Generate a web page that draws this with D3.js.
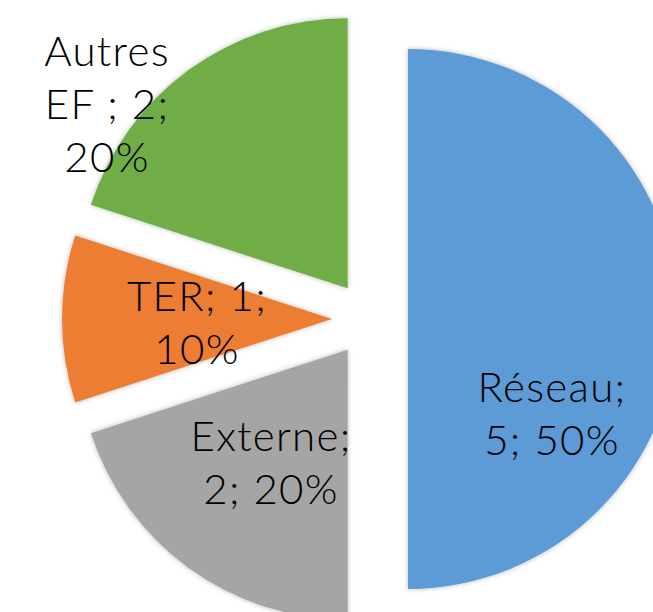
<!DOCTYPE html>
<html>
<head>
<meta charset="utf-8">
<script src="https://cdn.jsdelivr.net/npm/d3@7"></script>
<style>
  html, body { margin: 0; padding: 0; background: #fff; }
  svg { display: block; }
  .lbl { font-family: Lato, "Open Sans", sans-serif; font-weight: 300; font-size: 42px; letter-spacing: 1.3px; fill: #000; }
</style>
</head>
<body>
<svg id="chart" width="653" height="612"></svg>
<script>
// Répartition par origine
const categories = ["Réseau", "Externe", "TER", "Autres EF "];
const values = [5, 2, 1, 2];
const colors = ["#5B9BD5", "#A5A5A5", "#ED7D31", "#70AD47"];

const W = 653, H = 612;
const cx = 370, cy = 319;
const radius = 270;
const explode = 38;
const lineHeight = 53;

// label layout: position of each label block relative to the pie centre, and wrap width
const labelLayout = [
  { dx: 182, dy: 93, wrap: 170 },
  { dx: -99, dy: 142, wrap: 190 },
  { dx: -173, dy: 2, wrap: 150 },
  { dx: -263, dy: -216, wrap: 145 }
];

const svg = d3.select("#chart");

const defs = svg.append("defs");
const f = defs.append("filter").attr("id", "shadow")
  .attr("x", "-20%").attr("y", "-20%").attr("width", "140%").attr("height", "140%");
f.append("feDropShadow").attr("dx", 0).attr("dy", 0).attr("stdDeviation", 2.5)
  .attr("flood-color", "#000").attr("flood-opacity", 0.28);

const total = d3.sum(values);
const pie = d3.pie().sort(null).value(d => d.value);
const arcs = pie(categories.map((c, i) => ({ name: c, value: values[i], color: colors[i] })));
const arc = d3.arc().innerRadius(0).outerRadius(radius);
const pct = d3.format(".0%");

const g = svg.append("g").attr("transform", `translate(${cx},${cy})`);

g.selectAll("path.slice").data(arcs).join("path")
  .attr("class", "slice")
  .attr("d", arc)
  .attr("fill", d => d.data.color)
  .attr("filter", "url(#shadow)")
  .attr("transform", d => {
    const mid = (d.startAngle + d.endAngle) / 2;
    return `translate(${Math.sin(mid) * explode},${-Math.cos(mid) * explode})`;
  });

// data labels: "nom; valeur; pourcentage", wrapped to the slice's width
arcs.forEach((d, i) => {
  const L = labelLayout[i];
  const str = `${d.data.name}; ${d.data.value}; ${pct(d.data.value / total)}`;
  const words = str.split(/\s+/).filter(w => w.length);
  const t = g.append("text").attr("class", "lbl").attr("text-anchor", "middle");
  const probe = t.append("tspan");
  const lines = [];
  let cur = "";
  words.forEach(w => {
    const test = cur ? cur + " " + w : w;
    probe.text(test);
    if (probe.node().getComputedTextLength() > L.wrap && cur) {
      lines.push(cur);
      cur = w;
    } else {
      cur = test;
    }
  });
  if (cur) lines.push(cur);
  probe.remove();
  const startY = L.dy - (lines.length - 1) * lineHeight / 2;
  lines.forEach((ln, k) => {
    t.append("tspan")
      .attr("x", L.dx)
      .attr("y", startY + k * lineHeight)
      .attr("dominant-baseline", "central")
      .text(ln);
  });
});
</script>
</body>
</html>
